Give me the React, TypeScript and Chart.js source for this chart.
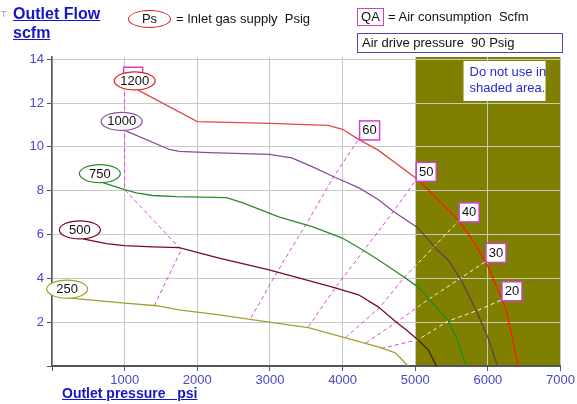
import React, { useEffect, useRef } from "react";
import { Chart, registerables } from "chart.js";

Chart.register(...registerables);

const FONT = "'Liberation Sans', Arial, Helvetica, sans-serif";

// Axis ticks
const xAxisTicks = [1000, 2000, 3000, 4000, 5000, 6000, 7000];
const yAxisTicks = [2, 4, 6, 8, 10, 12, 14];
const shadeStart = 5000;
const shadeEnd = 7000;

// Outlet flow curves (inlet gas supply Ps)
const supplyLabels = ["1200", "1000", "750", "500", "250"];
const ps1200X = [1180, 2000, 3000, 3800, 4000, 4220, 4490, 5040, 5300, 5600, 5800, 6000, 6200, 6250, 6420];
const ps1200Y = [12.6, 11.15, 11.07, 10.98, 10.8, 10.34, 9.85, 8.5, 7.65, 6.62, 5.7, 4.55, 3.0, 2.6, 0];
const ps1000X = [1000, 1616, 1750, 2160, 2990, 3300, 3580, 3900, 4220, 4490, 4700, 5040, 5300, 5450, 5630, 5835, 6000, 6130];
const ps1000Y = [10.75, 9.88, 9.79, 9.74, 9.66, 9.5, 9.1, 8.6, 8.14, 7.6, 7.05, 6.3, 5.3, 4.85, 3.93, 2.56, 1.3, 0];
const ps750X = [700, 1000, 1160, 1385, 1710, 2400, 2620, 3120, 3580, 3990, 4290, 4490, 4850, 5040, 5190, 5450, 5560, 5700];
const ps750Y = [8.37, 8.05, 7.9, 7.78, 7.73, 7.68, 7.45, 6.8, 6.36, 5.85, 5.27, 4.85, 4.05, 3.6, 3.06, 2.1, 1.33, 0];
const ps500X = [425, 750, 1000, 1385, 1750, 2300, 2990, 3900, 4220, 4490, 4740, 4875, 5040, 5180, 5290];
const ps500Y = [5.8, 5.58, 5.49, 5.44, 5.4, 4.92, 4.39, 3.57, 3.25, 2.7, 2.0, 1.65, 1.19, 0.73, 0];
const ps250X = [250, 1000, 1440, 1750, 2300, 2990, 3530, 3990, 4490, 4725, 4900];
const ps250Y = [3.1, 2.87, 2.75, 2.56, 2.33, 2.0, 1.75, 1.33, 0.87, 0.6, 0];

// Air consumption lines (QA)
const qaLabels = ["", "60", "50", "40", "30", "20"];
const qaTopX = [1000, 1000, 1000, 1780, 1410];
const qaTopY = [13.45, 10.75, 8.05, 5.3, 2.77];
const qa60X = [2740, 3100, 3510, 3880, 4220];
const qa60Y = [2.2, 4.3, 6.54, 8.65, 10.34];
const qa50X = [3530, 3900, 4290, 4700, 5000];
const qa50Y = [1.8, 3.57, 5.27, 7.05, 8.45];
const qa40X = [4040, 4520, 4850, 5260, 5590];
const qa40Y = [1.3, 2.7, 4.05, 5.45, 6.6];
const qa30X = [4320, 4740, 5190, 5620, 5960];
const qa30Y = [1.05, 2.0, 3.06, 4.0, 4.75];
const qa20X = [4530, 5040, 5450, 5830, 6180];
const qa20Y = [0.8, 1.2, 2.05, 2.5, 3.0];

const toPts = (xs: number[], ys: number[]) => xs.map((x, i) => ({ x, y: ys[i] }));

const curves = [
  { label: supplyLabels[0], pts: toPts(ps1200X, ps1200Y), left: "#e04848", right: "#ff1a00", ring: "#e02020" },
  { label: supplyLabels[1], pts: toPts(ps1000X, ps1000Y), left: "#8a4a9c", right: "#6a3c4c", ring: "#9050a0" },
  { label: supplyLabels[2], pts: toPts(ps750X, ps750Y), left: "#2a8a2a", right: "#1f8a1f", ring: "#2a8a2a" },
  { label: supplyLabels[3], pts: toPts(ps500X, ps500Y), left: "#7a0a1a", right: "#4a2010", ring: "#7a0a1a" },
  { label: supplyLabels[4], pts: toPts(ps250X, ps250Y), left: "#a0a030", right: "#a0a030", ring: "#a0a030" },
];

const qaLines = [
  { label: qaLabels[0], pts: toPts(qaTopX, qaTopY) },
  { label: qaLabels[1], pts: toPts(qa60X, qa60Y) },
  { label: qaLabels[2], pts: toPts(qa50X, qa50Y) },
  { label: qaLabels[3], pts: toPts(qa40X, qa40Y) },
  { label: qaLabels[4], pts: toPts(qa30X, qa30Y) },
  { label: qaLabels[5], pts: toPts(qa20X, qa20Y) },
];

function splitColor(left: string, right: string) {
  return (c: any) => {
    const chart = c.chart;
    const area = chart.chartArea;
    if (!area || !chart.scales.x) return left;
    const px = chart.scales.x.getPixelForValue(shadeStart);
    const g = chart.ctx.createLinearGradient(area.left, 0, area.right, 0);
    const t = Math.min(1, Math.max(0, (px - area.left) / (area.right - area.left)));
    g.addColorStop(0, left);
    g.addColorStop(t, left);
    g.addColorStop(t, right);
    g.addColorStop(1, right);
    return g;
  };
}

const shadePlugin = {
  id: "shade",
  beforeDraw(chart: any) {
    const { ctx, chartArea, scales } = chart;
    const x0 = scales.x.getPixelForValue(shadeStart);
    const x1 = scales.x.getPixelForValue(shadeEnd);
    ctx.save();
    ctx.fillStyle = "#808000";
    ctx.fillRect(x0, chartArea.top, x1 - x0, chartArea.bottom - chartArea.top);
    ctx.restore();
  },
};

const annotPlugin = {
  id: "annot",
  afterDatasetsDraw(chart: any) {
    const { ctx, chartArea, scales } = chart;
    const xs = scales.x;
    const ys = scales.y;
    ctx.save();
    ctx.font = `13px ${FONT}`;
    ctx.textAlign = "center";
    ctx.textBaseline = "middle";
    // QA label boxes
    qaLines.forEach((q) => {
      ctx.lineWidth = 1.5;
      ctx.strokeStyle = "#d040c8";
      ctx.fillStyle = "#ffffff";
      if (q.label === "") {
        const p = q.pts[0];
        const px = xs.getPixelForValue(p.x);
        const py = ys.getPixelForValue(p.y);
        ctx.fillRect(px - 1, py - 4, 19, 19);
        ctx.strokeRect(px - 1, py - 4, 19, 19);
        return;
      }
      const p = q.pts[q.pts.length - 1];
      const cx = xs.getPixelForValue(p.x) + 11;
      const cy = ys.getPixelForValue(p.y) - 9;
      ctx.fillRect(cx - 10, cy - 9.5, 20, 19);
      ctx.strokeRect(cx - 10, cy - 9.5, 20, 19);
      ctx.fillStyle = "#111";
      ctx.fillText(q.label, cx, cy + 0.5);
    });
    // Ps ellipses
    curves.forEach((c) => {
      const p = c.pts[0];
      const cx = xs.getPixelForValue(p.x) - 3;
      const cy = ys.getPixelForValue(p.y) - 9;
      ctx.beginPath();
      ctx.ellipse(cx, cy, 20.5, 9, 0, 0, Math.PI * 2);
      ctx.fillStyle = "#ffffff";
      ctx.fill();
      ctx.lineWidth = 1.2;
      ctx.strokeStyle = c.ring;
      ctx.stroke();
      ctx.fillStyle = "#111";
      ctx.fillText(c.label, cx, cy + 0.5);
    });
    // Warning box in shaded area
    const bx = chartArea.right - 97;
    const by = chartArea.top + 4;
    ctx.fillStyle = "#ffffff";
    ctx.fillRect(bx, by, 82, 40);
    ctx.fillStyle = "#2a2ac8";
    ctx.textAlign = "left";
    ctx.fillText("Do not use in", bx + 6, by + 11);
    ctx.fillText("shaded area.", bx + 6, by + 27);
    ctx.restore();
  },
};

export default function App() {
  const ref = useRef<HTMLCanvasElement>(null);
  useEffect(() => {
    const datasets: any[] = [];
    curves.forEach((c) => {
      datasets.push({
        label: c.label,
        data: c.pts,
        borderColor: splitColor(c.left, c.right),
        borderWidth: 1.3,
        pointRadius: 0,
        tension: 0,
        fill: false,
      });
    });
    qaLines.forEach((q) => {
      datasets.push({
        label: "QA " + q.label,
        data: q.pts,
        borderColor: splitColor("#dd44dd", "#f4f0d8"),
        borderWidth: 1,
        borderDash: [4, 3],
        pointRadius: 0,
        tension: 0,
        fill: false,
      });
    });
    const chart = new Chart(ref.current as HTMLCanvasElement, {
      type: "line",
      data: { datasets },
      plugins: [shadePlugin, annotPlugin],
      options: {
        responsive: false,
        animation: false,
        events: [],
        layout: { padding: { top: 57, right: 14, left: 0, bottom: 0 } },
        plugins: { legend: { display: false }, tooltip: { enabled: false }, title: { display: false } },
        scales: {
          x: {
            type: "linear",
            min: 0,
            max: 7000,
            afterFit: (s: any) => {
              s.height = 38;
            },
            afterBuildTicks: (s: any) => {
              s.ticks = [0, ...xAxisTicks].map((value) => ({ value }));
            },
            ticks: {
              color: "#4848c8",
              font: { family: FONT, size: 13 },
              padding: 2,
              maxRotation: 0,
              autoSkip: false,
              callback: (v: any) => (v === 0 ? "" : String(v)),
            },
            grid: { color: "#c8c8c8", lineWidth: 1, tickLength: 5, tickColor: "#4848c8", drawTicks: true },
            border: { color: "#555555", width: 2 },
          },
          y: {
            type: "linear",
            min: 0,
            max: 14.1,
            afterFit: (s: any) => {
              s.width = 52;
            },
            afterBuildTicks: (s: any) => {
              s.ticks = [0, ...yAxisTicks].map((value) => ({ value }));
            },
            ticks: {
              color: "#4848c8",
              font: { family: FONT, size: 13 },
              padding: 3,
              autoSkip: false,
              callback: (v: any) => (v === 0 ? "" : String(v)),
            },
            grid: { color: "#c8c8c8", lineWidth: 1, tickLength: 5, tickColor: "#555555", drawTicks: true },
            border: { color: "#555555", width: 1.5 },
          },
        },
      } as any,
    });
    return () => chart.destroy();
  }, []);

  const abs: any = { position: "absolute", whiteSpace: "pre", fontFamily: FONT };
  return (
    <div style={{ position: "absolute", left: 0, top: 0, width: 577, height: 404, background: "#fff", overflow: "hidden", fontFamily: FONT }}>
      <canvas ref={ref} width={577} height={404} style={{ position: "absolute", left: 0, top: 0, width: 577, height: 404 }} />
      <div style={{ ...abs, left: 1, top: 9, fontSize: 9, color: "#999" }}>T</div>
      <div style={{ ...abs, left: 13, top: 4, fontSize: 16, fontWeight: "bold", color: "#1515c8", textDecoration: "underline", lineHeight: "19px" }}>
        {"Outlet Flow\nscfm"}
      </div>
      <div style={{ ...abs, left: 128, top: 10, width: 43, height: 18, boxSizing: "border-box", border: "1.5px solid #d02020", borderRadius: "50%", textAlign: "center", fontSize: 13, lineHeight: "15px", color: "#111" }}>
        Ps
      </div>
      <div style={{ ...abs, left: 176, top: 11, fontSize: 13, lineHeight: "15px", color: "#111" }}>{"= Inlet gas supply  Psig"}</div>
      <div style={{ ...abs, left: 357, top: 8, width: 27, height: 18, boxSizing: "border-box", border: "1.5px solid #d040c8", textAlign: "center", fontSize: 13, lineHeight: "15px", color: "#111" }}>
        QA
      </div>
      <div style={{ ...abs, left: 388, top: 9, fontSize: 13, lineHeight: "15px", color: "#111" }}>{"= Air consumption  Scfm"}</div>
      <div style={{ ...abs, left: 357, top: 33, width: 206, height: 20, boxSizing: "border-box", border: "1.5px solid #4848b8", paddingLeft: 4, fontSize: 13, lineHeight: "17px", color: "#111" }}>
        {"Air drive pressure  90 Psig"}
      </div>
      <div style={{ ...abs, left: 62, top: 385, fontSize: 14, fontWeight: "bold", color: "#1515c8", textDecoration: "underline", lineHeight: "16px" }}>
        {"Outlet pressure   psi"}
      </div>
    </div>
  );
}
